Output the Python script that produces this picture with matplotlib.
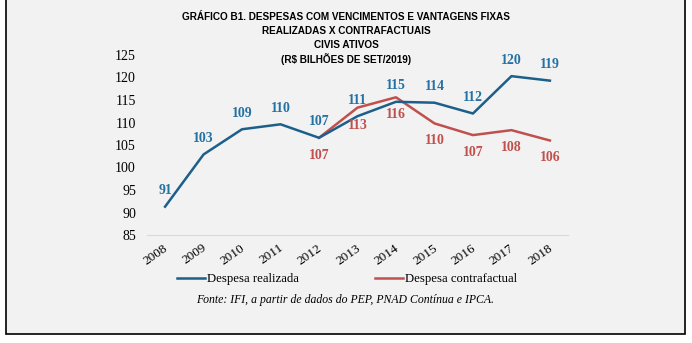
import matplotlib.pyplot as plt
import matplotlib.transforms as mtransforms
from matplotlib.patches import Rectangle
from matplotlib.lines import Line2D

anos = [2008, 2009, 2010, 2011, 2012, 2013, 2014, 2015, 2016, 2017, 2018]
realizada = [91.3, 102.9, 108.5, 109.6, 106.6, 111.4, 114.6, 114.4, 112.0, 120.3, 119.3]
rot_real = ["91", "103", "109", "110", "107", "111", "115", "114", "112", "120", "119"]
anos_cf = [2012, 2013, 2014, 2015, 2016, 2017, 2018]
contrafactual = [106.6, 113.3, 115.6, 109.8, 107.2, 108.3, 106.0]
rot_cf = ["107", "113", "116", "110", "107", "108", "106"]
yticks = [85, 90, 95, 100, 105, 110, 115, 120, 125]

azul = "#1b5f8a"
azul_txt = "#2471a3"
vermelho = "#c0504d"
serif = ["Liberation Serif", "DejaVu Serif"]

fig = plt.figure(figsize=(6.92, 3.43), dpi=100)
fig.patch.set_facecolor("white")
fundo = Rectangle((6 / 692, 1 - 334 / 343), 679 / 692, 334 / 343 + 0.05,
                  transform=fig.transFigure, facecolor="#f2f2f2",
                  edgecolor="black", linewidth=1.2, zorder=-10)
fig.patches.append(fundo)

ax = fig.add_axes([147 / 692, 1 - 235 / 343, 421 / 692, 180 / 343])
ax.set_zorder(5)
ax.set_facecolor("none")
ax.plot(anos, realizada, color=azul, lw=1.8, zorder=3)
ax.plot(anos_cf, contrafactual, color=vermelho, lw=1.8, zorder=2)

for x, y, t in zip(anos, realizada, rot_real):
    ax.annotate(t, (x, y), xytext=(0, 11.5), textcoords="offset points", ha="center",
                va="center", color=azul_txt, fontsize=10, fontweight="bold", family=serif)
for x, y, t in zip(anos_cf, contrafactual, rot_cf):
    ax.annotate(t, (x, y), xytext=(0, -12.5), textcoords="offset points", ha="center",
                va="center", color=vermelho, fontsize=10, fontweight="bold", family=serif)

ax.set_xlim(2007.53, 2018.47)
ax.set_ylim(85, 125)
ax.set_yticks(yticks)
ax.set_xticks(anos)
ax.set_xticklabels([str(a) for a in anos], rotation=35, ha="right", family=serif, fontsize=9.5)
ax.set_yticklabels([str(v) for v in yticks], family=serif, fontsize=10)
ax.tick_params(length=0, pad=8)
ax.tick_params(axis="x", pad=5)
desloc = mtransforms.ScaledTranslation(5 / 100, 0, fig.dpi_scale_trans)
for lbl in ax.get_xticklabels():
    lbl.set_transform(lbl.get_transform() + desloc)
for s in ["top", "right", "left"]:
    ax.spines[s].set_visible(False)
ax.spines["bottom"].set_color("#d9d9d9")

titulo = ["GRÁFICO B1. DESPESAS COM VENCIMENTOS E VANTAGENS FIXAS",
          "REALIZADAS X CONTRAFACTUAIS",
          "CIVIS ATIVOS",
          "(R$ BILHÕES DE SET/2019)"]
for i, linha in enumerate(titulo):
    fig.text(346 / 692, 1 - (17 + 14 * i) / 343, linha, ha="center", va="center",
             fontsize=7.2, fontweight="bold", family="Liberation Sans")

handles = [Line2D([], [], color=azul, lw=1.8), Line2D([], [], color=vermelho, lw=1.8)]
fig.legend(handles, ["Despesa realizada", "Despesa contrafactual"], loc="center",
           bbox_to_anchor=(347 / 692, 1 - 279 / 343), ncol=2, frameon=False,
           prop={"family": serif, "size": 9.2}, handlelength=2.2, handletextpad=0.2,
           columnspacing=5.9)

fig.text(345 / 692, 1 - 300 / 343, "Fonte: IFI, a partir de dados do PEP, PNAD Contínua e IPCA.",
         ha="center", va="center", fontsize=8.5, style="italic", family=serif)

fig.savefig("out.png", dpi=100, facecolor=fig.get_facecolor())
